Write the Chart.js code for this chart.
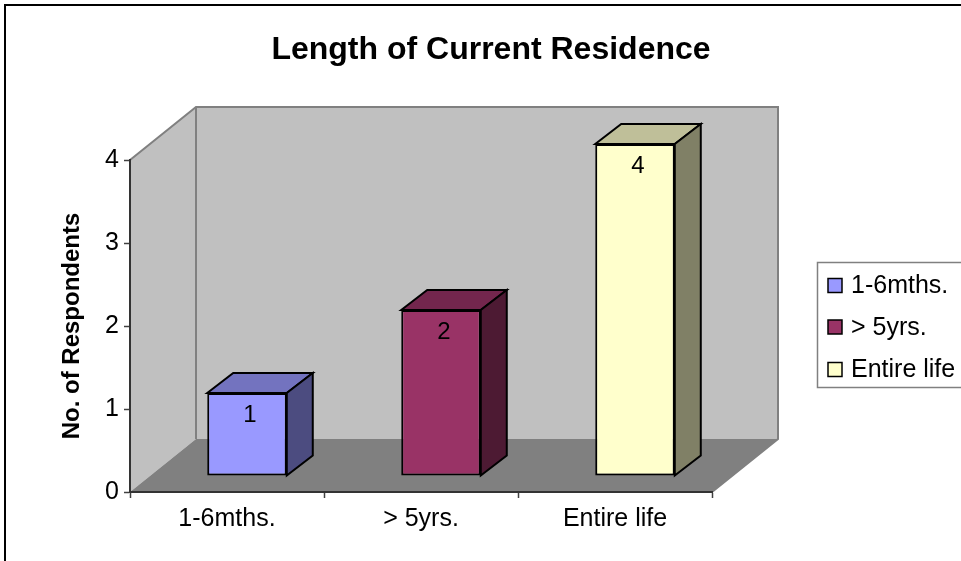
<!DOCTYPE html>
<html>
<head>
<meta charset="utf-8">
<script src="https://cdn.jsdelivr.net/npm/chart.js@4"></script>
<style>
  html, body { margin: 0; padding: 0; background: #fff; }
  canvas { display: block; }
</style>
</head>
<body>
<canvas id="chart" width="961" height="561"></canvas>
<script>
// данные
const categories = ["1-6mths.", "> 5yrs.", "Entire life"];
const respondents = [1, 2, 4];
const yTicks = [0, 1, 2, 3, 4];

// цвета столбцов: лицевая грань, верх, бок
const faceColors = ["#9999FF", "#993366", "#FFFFCC"];
const topColors = ["#7373BF", "#73264D", "#BFBF99"];
const sideColors = ["#4C4C80", "#4D1A33", "#808066"];

const FONT = 'Arial, "Liberation Sans", sans-serif';
const DEPTH = { x: 66, y: -53 };   // глубина стенок
const BAR_OFF = { x: 20, y: -16 }; // смещение лицевой грани столбца
const BAR_DEPTH = { x: 26, y: -20 };

function poly(ctx, pts, fill, stroke, lw) {
  ctx.beginPath();
  ctx.moveTo(pts[0][0], pts[0][1]);
  for (let i = 1; i < pts.length; i++) ctx.lineTo(pts[i][0], pts[i][1]);
  ctx.closePath();
  if (fill) { ctx.fillStyle = fill; ctx.fill(); }
  if (stroke) { ctx.strokeStyle = stroke; ctx.lineWidth = lw || 1; ctx.stroke(); }
}

const walls3d = {
  id: "walls3d",
  beforeDraw(chart) {
    const ctx = chart.ctx;
    const { left: L, right: R, top: T, bottom: B } = chart.chartArea;
    const dx = DEPTH.x, dy = DEPTH.y;
    ctx.save();
    ctx.fillStyle = "#fff";
    ctx.fillRect(0, 0, chart.width, chart.height);
    // рамка
    ctx.strokeStyle = "#000";
    ctx.lineWidth = 2;
    ctx.strokeRect(5, 5, 1200, 1200);
    // стенки и пол
    poly(ctx, [[L, T], [L + dx, T + dy], [L + dx, B + dy], [L, B]], "#C0C0C0");
    ctx.fillStyle = "#C0C0C0";
    ctx.fillRect(L + dx, T + dy, R - L, B - T);
    poly(ctx, [[L, B], [R, B], [R + dx, B + dy], [L + dx, B + dy]], "#808080");
    // рёбра
    ctx.strokeStyle = "#808080";
    ctx.lineWidth = 2;
    ctx.beginPath();
    ctx.moveTo(L, T); ctx.lineTo(L + dx, T + dy); ctx.lineTo(R + dx, T + dy);
    ctx.lineTo(R + dx, B + dy); ctx.lineTo(R, B);
    ctx.moveTo(L + dx, T + dy); ctx.lineTo(L + dx, B + dy);
    ctx.stroke();
    ctx.restore();
  },
  beforeDatasetDraw(chart) {
    chart.ctx.save();
    chart.ctx.translate(BAR_OFF.x, BAR_OFF.y);
  },
  afterDatasetDraw(chart) {
    chart.ctx.restore();
  },
  afterDatasetsDraw(chart) {
    const ctx = chart.ctx;
    const meta = chart.getDatasetMeta(0);
    ctx.save();
    ctx.lineJoin = "miter";
    meta.data.forEach((bar, i) => {
      const p = bar.getProps(["x", "y", "base", "width"], true);
      const l = p.x - p.width / 2 + BAR_OFF.x;
      const r = p.x + p.width / 2 + BAR_OFF.x;
      const t = p.y + BAR_OFF.y;
      const b = p.base + BAR_OFF.y;
      const bx = BAR_DEPTH.x, by = BAR_DEPTH.y;
      poly(ctx, [[l, t], [l + bx, t + by], [r + bx, t + by], [r, t]], topColors[i], "#000", 2);
      poly(ctx, [[r, t], [r + bx, t + by], [r + bx, b + by], [r, b]], sideColors[i], "#000", 2);
      // подпись значения
      ctx.fillStyle = "#000";
      ctx.font = "24px " + FONT;
      ctx.textAlign = "center";
      ctx.textBaseline = "middle";
      ctx.fillText(String(respondents[i]), (l + r) / 2 + 3, t + 22);
    });
    ctx.restore();
  },
  afterDraw(chart) {
    const ctx = chart.ctx;
    ctx.save();
    // заголовок
    ctx.fillStyle = "#000";
    ctx.font = "bold 32px " + FONT;
    ctx.textAlign = "center";
    ctx.textBaseline = "middle";
    ctx.fillText("Length of Current Residence", 491, 50);
    // легенда
    ctx.strokeStyle = "#808080";
    ctx.lineWidth = 1.5;
    ctx.strokeRect(817.5, 262.5, 200, 125);
    ctx.font = "25px " + FONT;
    ctx.textAlign = "left";
    const rows = [285.5, 327, 369.5];
    categories.forEach((c, i) => {
      ctx.fillStyle = faceColors[i];
      ctx.fillRect(828, rows[i] - 7, 14, 14);
      ctx.strokeStyle = "#000";
      ctx.lineWidth = 1.5;
      ctx.strokeRect(828, rows[i] - 7, 14, 14);
      ctx.fillStyle = "#000";
      ctx.fillText(c, 851, rows[i] + 1);
    });
    ctx.restore();
  }
};

new Chart(document.getElementById("chart"), {
  type: "bar",
  data: {
    labels: categories,
    datasets: [{
      data: respondents,
      backgroundColor: faceColors,
      borderColor: "#000",
      borderWidth: 2,
      borderSkipped: false,
      categoryPercentage: 1,
      barPercentage: 0.41,
      clip: false
    }]
  },
  options: {
    responsive: false,
    animation: false,
    events: [],
    layout: { padding: { left: 58, right: 249, top: 160, bottom: 19 } },
    plugins: {
      legend: { display: false },
      title: { display: false },
      tooltip: { enabled: false }
    },
    scales: {
      x: {
        grid: { drawOnChartArea: false, tickLength: 6, tickColor: "#404040", tickWidth: 1.5, offset: true },
        border: { color: "#333", width: 2 },
        ticks: { color: "#000", font: { family: FONT, size: 25 }, padding: 6, maxRotation: 0 },
        afterFit(scale) { scale.height = 50; }
      },
      y: {
        min: 0,
        max: 4,
        afterBuildTicks(scale) { scale.ticks = yTicks.map((v) => ({ value: v })); },
        grid: { drawOnChartArea: false, tickLength: 6, tickColor: "#404040", tickWidth: 1.5 },
        border: { color: "#333", width: 2 },
        ticks: { color: "#000", font: { family: FONT, size: 25 }, padding: 5 },
        title: {
          display: true,
          text: "No. of Respondents",
          color: "#000",
          font: { family: FONT, size: 24, weight: "bold" },
          padding: 0
        },
        afterFit(scale) { scale.width = 72; }
      }
    }
  },
  plugins: [walls3d]
});
</script>
</body>
</html>
